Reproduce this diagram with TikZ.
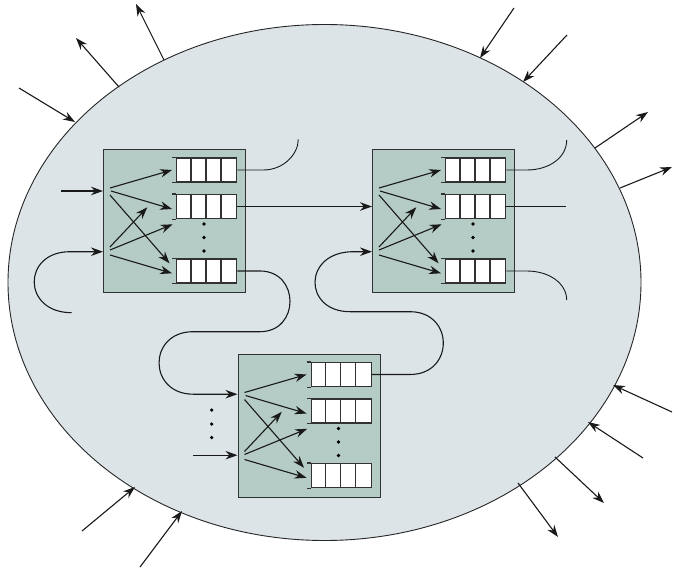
\documentclass[tikz,border=0pt]{standalone}
\usetikzlibrary{arrows.meta,shapes.geometric}
\definecolor{ellfill}{RGB}{221,228,232}
\definecolor{boxfill}{RGB}{180,204,197}
\definecolor{edgec}{RGB}{50,50,50}
\newcommand\swbx[3]{%
 \begin{scope}[shift={(#2,#3)}]
  \node[swbox] (#1) at (0,0) {};
  \node[queue] (#1q1) at (103.7,21) {};
  \node[queue] (#1q2) at (103.7,57.5) {};
  \node[queue] (#1q3) at (103.7,122) {};
  \foreach \q in {q1,q2,q3} {
    \draw[qline] (#1\q.north west) -- ++(-4,0);
    \draw[qline] (#1\q.south west) -- ++(-4,0);
    \foreach \k in {15,30,45}
      \draw[qline] ([xshift=\k pt]#1\q.north west) -- ([xshift=\k pt]#1\q.south west);
  }
  \node[dotn] (#1d1) at (101,75) {};
  \node[dotn] (#1d2) at (101,88.5) {};
  \node[dotn] (#1d3) at (101,102) {};
  \coordinate (#1o1) at (7,39);
  \coordinate (#1o2) at (8,42);
  \coordinate (#1o3) at (7,46);
  \coordinate (#1o4) at (7,98);
  \coordinate (#1o5) at (7,101);
  \coordinate (#1o6) at (7,106);
  \coordinate (#1m1) at (44.3,58.3);
  \coordinate (#1m2) at (69.7,75.3);
  \draw[arr] (#1o1) -- ([xshift=-4pt]#1q1.west);
  \draw[arr] (#1o2) -- ([xshift=-4pt,yshift=-2.5pt]#1q2.west);
  \draw[arr] (#1o3) -- ([xshift=-6.5pt,yshift=7.7pt]#1q3.west);
  \draw[arr] (#1o4) -- (#1m1);
  \draw[arr] (#1o5) -- (#1m2);
  \draw[arr] (#1o6) -- ([xshift=-4pt,yshift=-2.3pt]#1q3.west);
 \end{scope}}
\begin{document}
\begin{tikzpicture}[x=1pt,y=-1pt,
  arr/.style={-{Stealth[length=12pt,width=8.5pt]}, line width=1.1pt, black!90},
  wire/.style={line width=0.9pt, black!90},
  qline/.style={draw=edgec, line width=1.3pt},
  swbox/.style={draw=edgec, line width=1.1pt, fill=boxfill, minimum width=142pt, minimum height=143pt, inner sep=0pt, anchor=north west},
  queue/.style={draw=edgec, line width=1.3pt, fill=white, minimum width=60pt, minimum height=24pt, inner sep=0pt},
  dotn/.style={circle, fill=black, inner sep=0pt, minimum size=3.6pt},
  net/.style={ellipse, draw=black!85, line width=0.9pt, fill=ellfill, minimum width=633pt, minimum height=516pt, inner sep=0pt}]
\useasboundingbox (0,0) rectangle (673,570);
\node[net] (net) at (324.5,282.5) {};
% arrows across the boundary
\coordinate (e1s) at (19,88);   \coordinate (e1t) at (75,122);
\coordinate (e2s) at (514,8);   \coordinate (e2t) at (480,58);
\coordinate (e3s) at (567,35);  \coordinate (e3t) at (523,82);
\coordinate (e4s) at (672,412); \coordinate (e4t) at (613,385);
\coordinate (e5s) at (643,458); \coordinate (e5t) at (588,422);
\coordinate (e6s) at (82,531);  \coordinate (e6t) at (135,487);
\coordinate (e7s) at (140,567); \coordinate (e7t) at (182,511);
\coordinate (e8s) at (119,87);  \coordinate (e8t) at (76,38);
\coordinate (e9s) at (164,60);  \coordinate (e9t) at (136,4);
\coordinate (e10s) at (595,148); \coordinate (e10t) at (648,112);
\coordinate (e11s) at (620,188); \coordinate (e11t) at (672,167);
\coordinate (e12s) at (555,457); \coordinate (e12t) at (604,503);
\coordinate (e13s) at (518,483); \coordinate (e13t) at (558,537);
\foreach \i in {1,...,13} \draw[arr] (e\i s) -- (e\i t);
% switch boxes
\swbx{b1}{103}{149}
\swbx{b2}{372}{149}
\swbx{b3}{237.5}{353.5}
% box 1 inputs
\coordinate (i1) at (61,191);
\draw[arr] (i1) -- (i1 -| b1.west);
\coordinate (c1s) at (71.7,312.7);
\coordinate (c1e) at (70,251.7);
\draw[arr] (c1s) .. controls (22,312.7) and (22,251.7) .. (c1e) -- (c1e -| b1.west);
% box 1 outputs
\coordinate (o11) at (298.3,139.3);
\draw[wire] (b1q1.east) -- ++(26,0) .. controls +(20,0) and +(0,15) .. (o11);
\draw[arr] (b1q2.east) -- (b1q2.east -| b2.west);
\coordinate (s1) at (260,271);
\coordinate (s2) at (260,331.7);
\coordinate (s3) at (193,331.7);
\coordinate (s4) at (193.3,394.2);
\draw[arr] (b1q3.east) -- (s1) .. controls (300,271) and (300,331.7) .. (s2) -- (s3)
  .. controls (147.7,331.7) and (147.7,394.2) .. (s4) -- (s4 -| b3.west);
% box 3 output to box 2 lower input
\coordinate (t1) at (410,374.5);
\coordinate (t2) at (410,311.7);
\coordinate (t3) at (350,311.7);
\coordinate (t4) at (353.3,251.7);
\draw[arr] (b3q1.east) -- (t1) .. controls (454.4,374.5) and (454.4,311.7) .. (t2) -- (t3)
  .. controls (302.8,311.7) and (302.8,251.7) .. (t4) -- (t4 -| b2.west);
% box 2 outputs
\coordinate (u1) at (566.7,140);
\coordinate (u2) at (565.7,206.5);
\coordinate (u3) at (566.7,300);
\draw[wire] (b2q1.east) -- (526.7,170) .. controls (550,170) and (566.7,157) .. (u1);
\draw[wire] (b2q2.east) -- (u2);
\draw[wire] (b2q3.east) -- (526.7,271) .. controls (550,271) and (566.7,284) .. (u3);
% box 3 lower input and dots
\coordinate (i3) at (193.3,455.2);
\draw[arr] (i3) -- (i3 -| b3.west);
\node[dotn] (ld1) at (211.7,410) {};
\node[dotn] (ld2) at (211.7,424) {};
\node[dotn] (ld3) at (211.7,437.5) {};
\end{tikzpicture}
\end{document}
